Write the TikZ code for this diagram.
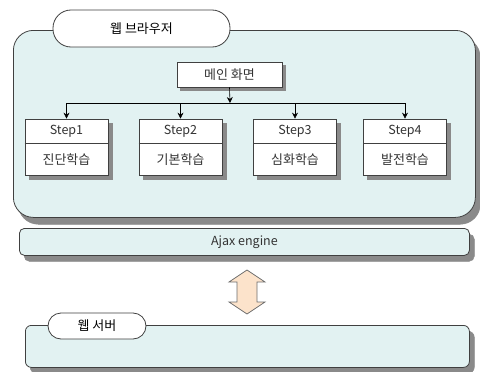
\documentclass[tikz,border=0pt]{standalone}
\usepackage{fontspec}
\setmainfont{Noto Sans CJK KR}
\usetikzlibrary{arrows.meta}
\definecolor{paneC}{HTML}{E2F2F2}
\definecolor{shadC}{HTML}{8A8A8A}
\definecolor{lineC}{HTML}{404040}
\definecolor{peachC}{HTML}{FCE3CB}
\tikzset{
  pane/.style={draw=lineC, fill=paneC, line width=0.8pt},
  tab/.style={draw=lineC, fill=white, line width=0.8pt, font=\fontsize{13}{15}\selectfont},
  box/.style={draw=lineC, fill=white, line width=0.7pt, inner sep=0pt},
  dropsh/.style={fill=shadC, draw=shadC, line width=0.5pt, inner sep=0pt},
  conn/.style={draw=black, line width=0.6pt},
  arr/.style={conn, -{Stealth[length=6pt,width=6pt]}},
  lbl/.style={font=\fontsize{12.5}{15}\selectfont, text=black!80},
  klbl/.style={font=\fontsize{13}{15}\selectfont, text=black!80},
}
\begin{document}
\begin{tikzpicture}[x=1pt,y=-1pt]
\fill[white] (0,0) rectangle (480,372);
\useasboundingbox (0,0) rectangle (480,372);
% browser pane
\node[dropsh, rounded corners=20pt, minimum width=462pt, minimum height=187pt, anchor=north west] (browsersh) at (18,37) {};
\node[pane, rounded corners=20pt, minimum width=462pt, minimum height=187pt, anchor=north west] (browser) at (13,30) {};
\node[tab, rounded corners=18pt, minimum width=177pt, minimum height=37pt] (btab) at (141.5,28.5) {웹 브라우저};
% main screen
\node[dropsh, minimum width=105pt, minimum height=25pt] (mainsh) at (233,78) {};
\node[box, minimum width=105pt, minimum height=25pt, klbl] (main) at (229.5,74.5) {메인 화면};
% step boxes
\foreach \i/\x/\t in {1/66.5/진단학습, 2/180.5/기본학습, 3/295/심화학습, 4/405/발전학습}{
  \node[dropsh, minimum width=83pt, minimum height=56pt] (ssh\i) at (\x+4,151) {};
  \node[box, minimum width=83pt, minimum height=56pt] (s\i) at (\x,147) {};
  \draw[lineC, line width=0.7pt] (s\i.west |- 0,143) -- (s\i.east |- 0,143);
  \node[lbl] (st\i) at (\x,131) {Step\i};
  \node[klbl] (sk\i) at (\x,160) {\t};
}
% connectors
\coordinate (j) at (230,103);
\coordinate (jl) at (66.5,103);
\coordinate (jr) at (405,103);
\draw[arr] (main.south) -- (j);
\draw[conn] (jl) -- (jr);
\foreach \i in {1,2,3,4}{
  \draw[arr] (s\i.north |- j) -- (s\i.north);
}
% ajax engine
\node[dropsh, rounded corners=5pt, minimum width=450pt, minimum height=27pt, anchor=north west] (ajaxsh) at (24,234) {};
\node[pane, rounded corners=5pt, minimum width=450pt, minimum height=27pt, anchor=north west, lbl] (ajax) at (19,228) {Ajax engine};
% double arrow
\coordinate (ua) at (247,270);
\coordinate (da) at (247,314);
\draw[draw=shadC!80!black, fill=peachC, line width=0.7pt]
  (ua) -- (265,282) -- (257,282) -- (257,302) -- (265,302) -- (da)
  -- (229,302) -- (237,302) -- (237,282) -- (229,282) -- cycle;
% web server
\node[dropsh, rounded corners=6pt, minimum width=444pt, minimum height=42pt, anchor=north west] (serversh) at (30,331) {};
\node[pane, rounded corners=6pt, minimum width=444pt, minimum height=42pt, anchor=north west] (server) at (25,325) {};
\node[tab, rounded corners=13pt, minimum width=98pt, minimum height=26pt] (stab) at (97,326) {웹 서버};
\end{tikzpicture}
\end{document}
